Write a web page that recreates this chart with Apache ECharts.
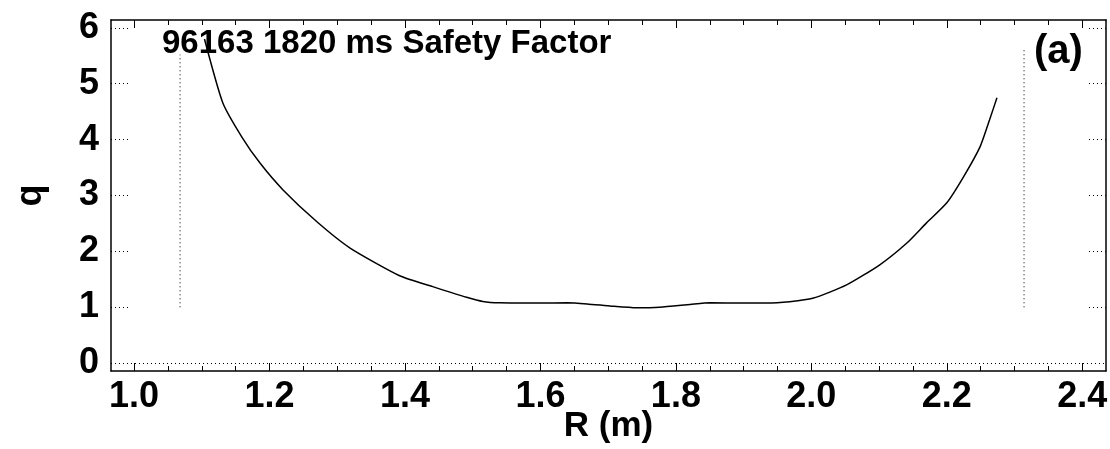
<!DOCTYPE html>
<html>
<head>
<meta charset="utf-8">
<script src="https://cdn.jsdelivr.net/npm/echarts@6/dist/echarts.min.js"></script>
<style>
html, body { margin: 0; padding: 0; background: #fff; }
#main { width: 1110px; height: 449px; }
</style>
</head>
<body>
<div id="main"></div>
<script>
// q profile
var rVals = [1.104, 1.131, 1.159, 1.186, 1.220, 1.270, 1.319, 1.393, 1.441, 1.491, 1.515, 1.540, 1.600, 1.639, 1.669, 1.705, 1.742, 1.776, 1.821, 1.850, 1.900, 1.934, 1.968, 2.002, 2.052, 2.101, 2.141, 2.170, 2.200, 2.224, 2.249, 2.263, 2.274];
var qVals = [5.80, 4.66, 4.05, 3.58, 3.10, 2.53, 2.06, 1.56, 1.37, 1.18, 1.105, 1.08, 1.075, 1.08, 1.06, 1.02, 0.99, 1.00, 1.05, 1.08, 1.075, 1.075, 1.10, 1.16, 1.40, 1.76, 2.15, 2.51, 2.87, 3.32, 3.87, 4.35, 4.75];
// dotted vertical markers (R, q bottom, q top)
var leftMark = [1.068, 1.0, 5.52];
var rightMark = [2.314, 1.0, 5.65];
var xMajor = [1.0, 1.2, 1.4, 1.6, 1.8, 2.0, 2.2, 2.4];
var xMinor = [1.05, 1.1, 1.15, 1.25, 1.3, 1.35, 1.45, 1.5, 1.55, 1.65, 1.7, 1.75, 1.85, 1.9, 1.95, 2.05, 2.1, 2.15, 2.25, 2.3, 2.35];
var yLabels = [0, 1, 2, 3, 4, 5, 6];
var yTicks = [1, 2, 3, 4, 5, 6];

var font = "'Liberation Sans', Arial, sans-serif";
var xMin = 0.966, xMax = 2.435, yMin = -0.14, yMax = 6.14;

var myChart = echarts.init(document.getElementById('main'));

function xAx(pos, ticks, len, showLine, showLabel) {
    return {
        type: 'value', position: pos, min: xMin, max: xMax,
        axisLine: { show: showLine, onZero: false, lineStyle: { color: '#000', width: 1.5 } },
        axisTick: { show: true, inside: true, length: len, customValues: ticks, lineStyle: { color: '#000', width: 1 } },
        axisLabel: {
            show: showLabel, customValues: xMajor, margin: 8,
            color: '#000', fontSize: 36, fontWeight: 'bold', fontFamily: font,
            formatter: function (v) { return v.toFixed(1); }
        },
        splitLine: { show: false }
    };
}

var xAxes = [
    xAx('bottom', xMajor, 8, true, true),
    xAx('bottom', xMinor, 5, false, false),
    xAx('top', xMajor, 8, true, false),
    xAx('top', xMinor, 5, false, false)
];
xAxes[0].name = 'R (m)';
xAxes[0].nameLocation = 'middle';
xAxes[0].nameGap = 38;
xAxes[0].nameMoveOverlap = false;
xAxes[0].nameTextStyle = { color: '#000', fontSize: 35, fontWeight: 'bold', fontFamily: font };

var option = {
    backgroundColor: '#fff',
    animation: false,
    grid: { left: 111, right: 4, top: 20, bottom: 78, outerBoundsMode: 'none', containLabel: false },
    title: {
        text: '96163 1820 ms Safety Factor',
        left: 157, top: 22,
        textStyle: { color: '#000', fontSize: 33, fontWeight: 'bold', fontFamily: font }
    },
    graphic: [{
        type: 'text', left: 1034, top: 32, z: 10,
        style: { text: '(a)', fill: '#000', fontSize: 40, fontWeight: 'bold', fontFamily: font }
    }],
    xAxis: xAxes,
    yAxis: [{
        type: 'value', position: 'left', min: yMin, max: yMax,
        name: 'q', nameLocation: 'middle', nameGap: 62, nameMoveOverlap: false,
        nameTextStyle: { color: '#000', fontSize: 36, fontWeight: 'bold', fontFamily: font },
        axisLine: { show: true, lineStyle: { color: '#000', width: 1.5 } },
        axisTick: { show: true, inside: true, length: 20, customValues: yTicks, lineStyle: { color: '#000', width: 1, type: [1, 3] } },
        axisLabel: { customValues: yLabels, margin: 12, color: '#000', fontSize: 36, fontWeight: 'bold', fontFamily: font },
        splitLine: { show: false }
    }, {
        type: 'value', position: 'right', min: yMin, max: yMax,
        axisLine: { show: true, lineStyle: { color: '#000', width: 1.5 } },
        axisTick: { show: true, inside: true, length: 18, customValues: yTicks, lineStyle: { color: '#000', width: 1, type: [1, 3] } },
        axisLabel: { show: false },
        splitLine: { show: false }
    }],
    series: [{
        type: 'line',
        data: rVals.map(function (r, i) { return [r, qVals[i]]; }),
        showSymbol: false,
        smooth: 0.2,
        lineStyle: { color: '#000', width: 1.5 },
        markLine: {
            silent: true, symbol: 'none', label: { show: false },
            lineStyle: { color: '#000', width: 1, type: [1, 3] },
            data: [{ yAxis: 0 }]
        }
    }, {
        type: 'line',
        data: [[leftMark[0], leftMark[1]], [leftMark[0], leftMark[2]]],
        showSymbol: false,
        lineStyle: { color: '#000', width: 1, type: [1, 3] }
    }, {
        type: 'line',
        data: [[rightMark[0], rightMark[1]], [rightMark[0], rightMark[2]]],
        showSymbol: false,
        lineStyle: { color: '#000', width: 1, type: [1, 3] }
    }]
};
myChart.setOption(option);
</script>
</body>
</html>
